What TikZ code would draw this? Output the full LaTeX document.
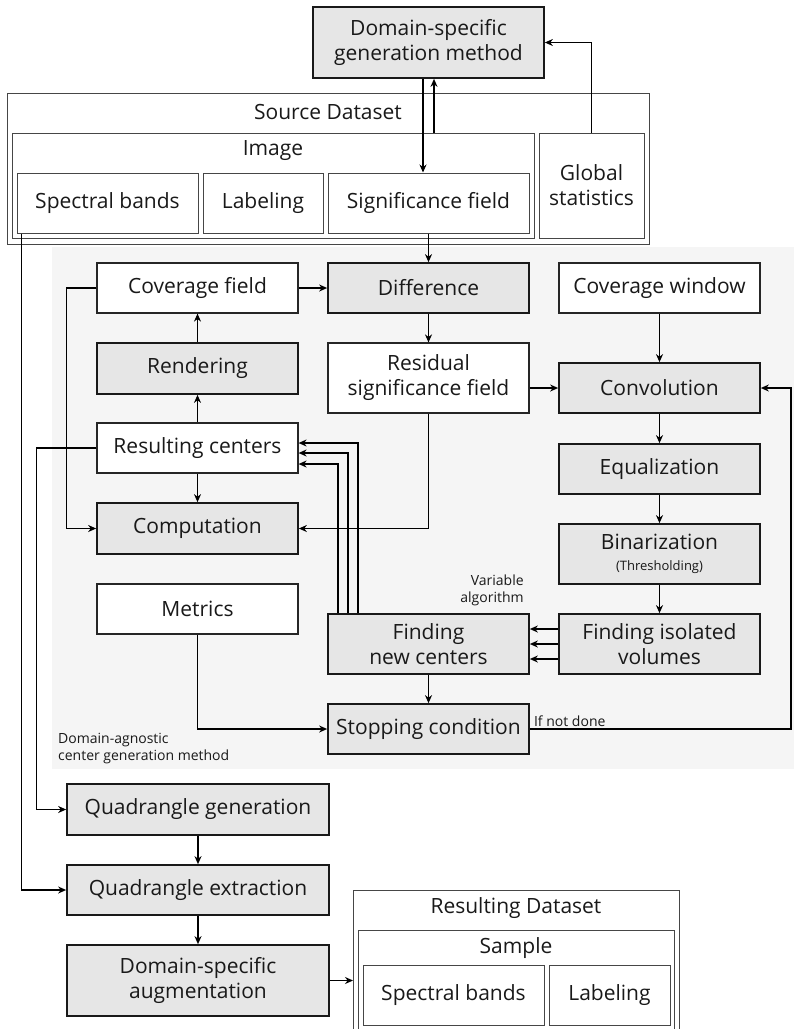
\documentclass[tikz,border=0pt]{standalone}
\usepackage{fontspec}
\setmainfont{Open Sans}
\usetikzlibrary{arrows.meta,calc}
\definecolor{boxgray}{RGB}{230,230,230}
\definecolor{bggray}{RGB}{245,245,245}
\definecolor{dsline}{RGB}{70,70,70}
\tikzset{
 base/.style={rectangle, inner sep=0pt, align=center, font=\fontsize{21}{25}\selectfont, text=black!90},
 wbox/.style={base, draw=black!85, fill=white, line width=1.2pt},
 gbox/.style={base, draw=black!90, fill=boxgray, line width=1.7pt},
 dsbox/.style={rectangle, inner sep=0pt, draw=dsline, line width=1pt},
 lbl/.style={inner sep=0pt, font=\fontsize{21}{25}\selectfont, text=black!90},
 small/.style={inner sep=0pt, font=\fontsize{14}{17}\selectfont, text=black!90},
 arr/.style={-{Stealth[length=8pt,width=7pt]}, line width=1.6pt},
}
\begin{document}
\begin{tikzpicture}[x=1pt,y=-1pt]
\useasboundingbox (0,0) rectangle (794,1029);
\clip (0,0) rectangle (794,1029);
% background of the domain-agnostic part
\node[fill=bggray, inner sep=0pt, minimum width=742pt, minimum height=522pt, anchor=north west] (bg) at (52,247) {};
% top part
\node[gbox, minimum width=231pt, minimum height=71pt] (dsgm) at (428.5,42.5) {Domain-specific\\generation method};
\node[dsbox, minimum width=642pt, minimum height=151pt] (srcds) at (328,168.5) {};
\node[lbl] (srcdsT) at (328,112) {Source Dataset};
\node[dsbox, minimum width=522pt, minimum height=105pt] (image) at (273,185.5) {};
\node[lbl] (imageT) at (273,151) {Image};
\node[base, dsbox, minimum width=181pt, minimum height=60pt] (specb) at (107.5,203) {Spectral bands};
\node[base, dsbox, minimum width=120pt, minimum height=60pt] (labl) at (263,203) {Labeling};
\node[base, dsbox, minimum width=201pt, minimum height=60pt] (sigf) at (428.5,203) {Significance field};
\node[base, dsbox, minimum width=105pt, minimum height=105pt] (glob) at (591.5,185.5) {Global\\statistics};
% middle
\node[wbox, minimum width=201pt, minimum height=50pt] (covf) at (197.5,288) {Coverage field};
\node[gbox, minimum width=201pt, minimum height=50pt] (diff) at (428.5,288) {Difference};
\node[wbox, minimum width=201pt, minimum height=50pt] (covw) at (659.5,288) {Coverage window};
\node[gbox, minimum width=201pt, minimum height=51pt] (rend) at (197.5,368.5) {Rendering};
\node[wbox, minimum width=201pt, minimum height=70pt] (resid) at (428.5,378) {Residual\\significance field};
\node[gbox, minimum width=201pt, minimum height=50pt] (conv) at (659.5,388) {Convolution};
\node[wbox, minimum width=201pt, minimum height=50pt] (rescen) at (197.5,448) {Resulting centers};
\node[gbox, minimum width=201pt, minimum height=50pt] (equal) at (659.5,469) {Equalization};
\node[gbox, minimum width=201pt, minimum height=51pt] (comp) at (197.5,528.5) {Computation};
\node[gbox, minimum width=201pt, minimum height=60pt] (binar) at (659.5,554) {Binarization\\[-4pt]{\fontsize{13}{15}\selectfont (Thresholding)}};
\node[wbox, minimum width=201pt, minimum height=50pt] (metrics) at (197.5,609) {Metrics};
\node[gbox, minimum width=201pt, minimum height=60pt] (fnc) at (428.5,644) {Finding\\new centers};
\node[gbox, minimum width=201pt, minimum height=60pt] (fiv) at (659.5,644) {Finding isolated\\volumes};
\node[gbox, minimum width=201pt, minimum height=50pt] (stop) at (428.5,729) {Stopping condition};
% bottom
\node[gbox, minimum width=262pt, minimum height=51pt] (qgen) at (198,809.5) {Quadrangle generation};
\node[gbox, minimum width=262pt, minimum height=50pt] (qext) at (198,890) {Quadrangle extraction};
\node[gbox, minimum width=262pt, minimum height=71pt] (dsaug) at (198,980.5) {Domain-specific\\augmentation};
\node[dsbox, minimum width=326pt, minimum height=160pt, anchor=north west] (resds) at (353,890) {};
\node[lbl] (resdsT) at (516,908) {Resulting Dataset};
\node[dsbox, minimum width=316pt, minimum height=110pt, anchor=north west] (sample) at (358,930) {};
\node[lbl] (sampleT) at (516,948) {Sample};
\node[base, dsbox, minimum width=181pt, minimum height=60pt] (specb2) at (453.5,995) {Spectral bands};
\node[base, dsbox, minimum width=121pt, minimum height=60pt] (labl2) at (609.5,995) {Labeling};
% labels
\node[small, anchor=south west] (ifnd) at ([xshift=4pt,yshift=2pt]stop.east) {If not done};
\node[small, align=right, anchor=south east] (varalg) at ([xshift=-6pt,yshift=7pt]fnc.north east) {Variable\\algorithm};
\node[small, align=left, anchor=south west] (dagn) at ([xshift=6pt,yshift=5pt]bg.south west) {Domain-agnostic\\center generation method};
% connectors
\draw[arr] ([xshift=-5.5pt]dsgm.south) -- ([xshift=-5.5pt]dsgm.south |- sigf.north);
\draw[arr] ([xshift=5.5pt]dsgm.south |- image.north) -- ([xshift=5.5pt]dsgm.south);
\draw[arr] (glob.north) |- (dsgm.east);
\draw[arr] (sigf.south) -- (diff.north);
\draw[arr] ([xshift=5pt]specb.south west) |- (qext.west);
\draw[arr] (rescen.west) -- ++(-60pt,0) |- (qgen.west);
\draw[arr] (covf.west) -- ++(-30pt,0) |- (comp.west);
\draw[arr] (covf.east) -- (diff.west);
\draw[arr] (rend.north) -- (covf.south);
\draw[arr] (rescen.north) -- (rend.south);
\draw[arr] (rescen.south) -- (comp.north);
\draw[arr] (diff.south) -- (resid.north);
\draw[arr] (resid.east |- conv.west) -- (conv.west);
\draw[arr] (resid.south) |- (comp.east);
\draw[arr] (covw.south) -- (conv.north);
\draw[arr] (conv.south) -- (equal.north);
\draw[arr] (equal.south) -- (binar.north);
\draw[arr] (binar.south) -- (fiv.north);
\foreach \s in {15,0,-15} \draw[arr] ([yshift=\s pt]fiv.west) -- ([yshift=\s pt]fnc.east);
\draw[arr] ([xshift=-90.5pt]fnc.north) |- ([yshift=-16pt]rescen.east);
\draw[arr] ([xshift=-80.5pt]fnc.north) |- ([yshift=-5pt]rescen.east);
\draw[arr] ([xshift=-70.5pt]fnc.north) |- ([yshift=5pt]rescen.east);
\draw[arr] (fnc.south) -- (stop.north);
\draw[arr] (metrics.south) |- (stop.west);
\draw[arr] (stop.east) -| ([xshift=30pt]conv.east) -- (conv.east);
\draw[arr] (qgen.south) -- (qext.north);
\draw[arr] (qext.south) -- (dsaug.north);
\draw[arr] (dsaug.east) -- (dsaug.east -| resds.west);
\end{tikzpicture}
\end{document}
